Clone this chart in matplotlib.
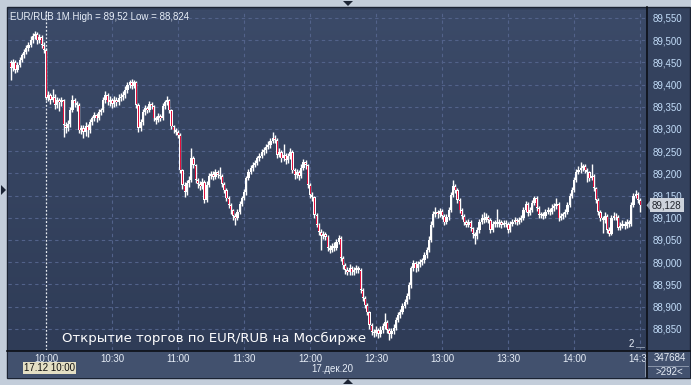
import matplotlib
matplotlib.use("Agg")
import matplotlib.pyplot as plt
import numpy as np
from matplotlib.patches import Rectangle, Polygon
from matplotlib.lines import Line2D
from matplotlib.transforms import Bbox, TransformedBbox
from matplotlib.colors import LinearSegmentedColormap

# ---------------- data (EUR/RUB, 1-minute candles, 17.12.20, 09:44 .. 14:30) ----------------
first_open = 89.450
close = [
    89.437, 89.451, 89.433, 89.444, 89.455, 89.466, 89.473, 89.482, 89.489, 89.500, 89.509, 89.514,
    89.500, 89.507, 89.489, 89.478, 89.370, 89.376, 89.365, 89.372, 89.354, 89.365, 89.360, 89.365,
    89.309, 89.302, 89.311, 89.342, 89.365, 89.358, 89.354, 89.297, 89.302, 89.293, 89.306, 89.297,
    89.315, 89.324, 89.331, 89.324, 89.338, 89.342, 89.365, 89.376, 89.360, 89.365, 89.356, 89.365,
    89.360, 89.370, 89.372, 89.376, 89.388, 89.399, 89.406, 89.397, 89.406, 89.354, 89.302, 89.315,
    89.338, 89.347, 89.342, 89.356, 89.351, 89.324, 89.320, 89.329, 89.324, 89.351, 89.360, 89.365,
    89.342, 89.306, 89.297, 89.293, 89.286, 89.207, 89.174, 89.158, 89.178, 89.185, 89.234, 89.219,
    89.185, 89.176, 89.171, 89.180, 89.140, 89.174, 89.194, 89.198, 89.192, 89.203, 89.196, 89.194,
    89.176, 89.162, 89.144, 89.129, 89.117, 89.104, 89.099, 89.113, 89.131, 89.144, 89.158, 89.189,
    89.203, 89.212, 89.219, 89.223, 89.234, 89.239, 89.248, 89.252, 89.259, 89.264, 89.273, 89.280,
    89.275, 89.241, 89.248, 89.234, 89.241, 89.230, 89.239, 89.248, 89.207, 89.196, 89.203, 89.194,
    89.212, 89.225, 89.219, 89.174, 89.151, 89.147, 89.106, 89.084, 89.068, 89.059, 89.063, 89.057,
    89.032, 89.027, 89.036, 89.032, 89.045, 89.054, 89.009, 88.993, 88.982, 88.977, 88.986, 88.977,
    88.982, 88.986, 88.982, 88.937, 88.919, 88.903, 88.887, 88.858, 88.843, 88.840, 88.847, 88.838,
    88.847, 88.856, 88.865, 88.847, 88.838, 88.845, 88.852, 88.870, 88.881, 88.887, 88.901, 88.910,
    88.924, 88.948, 88.986, 88.998, 88.986, 88.995, 89.000, 89.004, 89.016, 89.027, 89.050, 89.084,
    89.108, 89.113, 89.108, 89.115, 89.104, 89.090, 89.101, 89.117, 89.151, 89.171, 89.162, 89.140,
    89.117, 89.104, 89.090, 89.084, 89.090, 89.077, 89.063, 89.059, 89.072, 89.090, 89.099, 89.095,
    89.101, 89.095, 89.072, 89.086, 89.090, 89.086, 89.090, 89.084, 89.088, 89.086, 89.072, 89.086,
    89.090, 89.095, 89.090, 89.095, 89.099, 89.117, 89.131, 89.111, 89.117, 89.133, 89.144, 89.122,
    89.106, 89.108, 89.104, 89.113, 89.117, 89.113, 89.122, 89.126, 89.131, 89.099, 89.104, 89.108,
    89.113, 89.129, 89.149, 89.162, 89.185, 89.203, 89.207, 89.212, 89.216, 89.207, 89.203, 89.189,
    89.194, 89.167, 89.140, 89.113, 89.099, 89.095, 89.104, 89.072, 89.063, 89.099, 89.104, 89.101,
    89.077, 89.081, 89.086, 89.081, 89.090, 89.086, 89.129, 89.149, 89.153, 89.140, 89.128,
]
high = [
    89.455, 89.458, 89.456, 89.450, 89.462, 89.472, 89.480, 89.490, 89.497, 89.510, 89.516, 89.520,
    89.518, 89.515, 89.512, 89.496, 89.482, 89.385, 89.382, 89.390, 89.378, 89.372, 89.370, 89.372,
    89.368, 89.315, 89.320, 89.350, 89.376, 89.370, 89.364, 89.358, 89.310, 89.308, 89.315, 89.312,
    89.322, 89.330, 89.338, 89.336, 89.345, 89.348, 89.372, 89.385, 89.380, 89.374, 89.370, 89.375,
    89.372, 89.378, 89.380, 89.385, 89.396, 89.406, 89.410, 89.413, 89.410, 89.408, 89.358, 89.322,
    89.345, 89.354, 89.352, 89.362, 89.360, 89.354, 89.330, 89.335, 89.334, 89.358, 89.366, 89.374,
    89.368, 89.345, 89.310, 89.302, 89.298, 89.290, 89.210, 89.180, 89.185, 89.195, 89.257, 89.240,
    89.222, 89.190, 89.182, 89.190, 89.184, 89.182, 89.200, 89.206, 89.205, 89.210, 89.208, 89.215,
    89.198, 89.180, 89.166, 89.148, 89.134, 89.120, 89.110, 89.120, 89.138, 89.150, 89.165, 89.195,
    89.210, 89.218, 89.226, 89.230, 89.240, 89.246, 89.255, 89.260, 89.266, 89.272, 89.280, 89.293,
    89.286, 89.280, 89.256, 89.252, 89.265, 89.246, 89.246, 89.256, 89.252, 89.212, 89.210, 89.208,
    89.220, 89.232, 89.230, 89.222, 89.178, 89.158, 89.150, 89.110, 89.088, 89.074, 89.070, 89.068,
    89.060, 89.038, 89.042, 89.045, 89.052, 89.060, 89.058, 89.014, 88.998, 88.988, 88.995, 88.992,
    88.990, 88.994, 88.992, 88.986, 88.942, 88.924, 88.908, 88.890, 88.862, 88.850, 88.855, 88.852,
    88.855, 88.862, 88.886, 88.870, 88.852, 88.852, 88.860, 88.876, 88.888, 88.894, 88.908, 88.916,
    88.930, 88.955, 88.992, 89.005, 89.002, 89.002, 89.006, 89.010, 89.022, 89.034, 89.058, 89.092,
    89.115, 89.124, 89.118, 89.122, 89.120, 89.108, 89.108, 89.124, 89.158, 89.185, 89.176, 89.166,
    89.144, 89.122, 89.108, 89.095, 89.098, 89.094, 89.080, 89.068, 89.078, 89.097, 89.108, 89.112,
    89.110, 89.106, 89.100, 89.092, 89.096, 89.120, 89.098, 89.096, 89.095, 89.094, 89.090, 89.092,
    89.098, 89.102, 89.100, 89.102, 89.106, 89.124, 89.138, 89.135, 89.124, 89.140, 89.150, 89.148,
    89.126, 89.114, 89.112, 89.120, 89.124, 89.122, 89.130, 89.134, 89.145, 89.135, 89.110, 89.114,
    89.120, 89.136, 89.156, 89.170, 89.192, 89.210, 89.216, 89.226, 89.222, 89.220, 89.212, 89.206,
    89.220, 89.198, 89.170, 89.144, 89.118, 89.104, 89.112, 89.108, 89.078, 89.106, 89.112, 89.110,
    89.106, 89.090, 89.094, 89.092, 89.098, 89.096, 89.136, 89.156, 89.162, 89.158, 89.144,
]
low = [
    89.410, 89.430, 89.425, 89.428, 89.440, 89.450, 89.460, 89.468, 89.476, 89.484, 89.494, 89.502,
    89.492, 89.494, 89.482, 89.470, 89.365, 89.362, 89.356, 89.360, 89.345, 89.348, 89.340, 89.352,
    89.282, 89.290, 89.296, 89.305, 89.338, 89.350, 89.340, 89.290, 89.288, 89.280, 89.284, 89.282,
    89.292, 89.310, 89.318, 89.316, 89.320, 89.332, 89.338, 89.358, 89.354, 89.352, 89.348, 89.350,
    89.352, 89.355, 89.362, 89.366, 89.370, 89.382, 89.392, 89.390, 89.392, 89.348, 89.293, 89.296,
    89.310, 89.332, 89.335, 89.338, 89.344, 89.318, 89.312, 89.315, 89.318, 89.320, 89.346, 89.355,
    89.336, 89.300, 89.290, 89.286, 89.280, 89.200, 89.165, 89.147, 89.152, 89.170, 89.180, 89.212,
    89.178, 89.168, 89.162, 89.165, 89.133, 89.136, 89.170, 89.188, 89.186, 89.188, 89.190, 89.188,
    89.170, 89.155, 89.138, 89.122, 89.108, 89.096, 89.084, 89.094, 89.108, 89.126, 89.140, 89.152,
    89.184, 89.198, 89.206, 89.214, 89.218, 89.228, 89.234, 89.242, 89.246, 89.254, 89.258, 89.268,
    89.268, 89.234, 89.236, 89.226, 89.228, 89.222, 89.224, 89.232, 89.200, 89.188, 89.190, 89.186,
    89.190, 89.208, 89.210, 89.168, 89.144, 89.138, 89.100, 89.078, 89.060, 89.028, 89.052, 89.050,
    89.026, 89.020, 89.022, 89.026, 89.028, 89.040, 89.002, 88.985, 88.974, 88.970, 88.972, 88.970,
    88.972, 88.976, 88.976, 88.930, 88.912, 88.896, 88.880, 88.850, 88.835, 88.832, 88.834, 88.830,
    88.832, 88.840, 88.850, 88.840, 88.824, 88.830, 88.838, 88.846, 88.864, 88.874, 88.882, 88.896,
    88.905, 88.918, 88.942, 88.980, 88.978, 88.980, 88.988, 88.994, 88.998, 89.010, 89.022, 89.045,
    89.078, 89.102, 89.100, 89.102, 89.098, 89.084, 89.085, 89.096, 89.112, 89.146, 89.155, 89.134,
    89.110, 89.098, 89.084, 89.078, 89.078, 89.070, 89.055, 89.041, 89.052, 89.066, 89.085, 89.088,
    89.090, 89.088, 89.066, 89.068, 89.080, 89.080, 89.080, 89.076, 89.078, 89.080, 89.066, 89.068,
    89.082, 89.086, 89.084, 89.085, 89.090, 89.094, 89.112, 89.105, 89.106, 89.112, 89.128, 89.116,
    89.100, 89.100, 89.098, 89.100, 89.108, 89.106, 89.108, 89.116, 89.120, 89.092, 89.094, 89.098,
    89.102, 89.108, 89.124, 89.144, 89.158, 89.180, 89.198, 89.200, 89.205, 89.200, 89.180, 89.182,
    89.184, 89.160, 89.134, 89.106, 89.092, 89.066, 89.088, 89.066, 89.058, 89.060, 89.094, 89.094,
    89.072, 89.072, 89.076, 89.074, 89.076, 89.080, 89.082, 89.124, 89.144, 89.134, 89.112,
]
start_label = "09:44"
time_ticks = ["10:00", "10:30", "11:00", "11:30", "12:00", "12:30", "13:00", "13:30", "14:00", "14:30"]
price_levels = [88.85, 88.90, 88.95, 89.00, 89.05, 89.10, 89.15, 89.20, 89.25, 89.30,
                89.35, 89.40, 89.45, 89.50, 89.55]
last_price = 89.128
header = "EUR/RUB 1M High = 89,52 Low = 88,824"
caption = "Открытие торгов по EUR/RUB на Мосбирже"
cursor_label = "17.12 10:00"
date_label = "17.дек.20"
volume_label = "347684"
count_label = ">292<"

# ---------------- figure ----------------
W, H = 691, 385
fig = plt.figure(figsize=(W / 100, H / 100), dpi=100)
fig.patch.set_facecolor('#c3cdda')
FONT = 'Liberation Sans'


def fx(px):
    return px / W


def fy(py):
    return 1 - py / H


# dark panel & bottom strip (behind the axes)
fig.patches.append(Rectangle((fx(7), fy(378)), (690 - 7) / W, (378 - 7) / H, transform=fig.transFigure,
                             facecolor='#34425e', edgecolor='#1b2333', lw=1.0, zorder=-5))
fig.patches.append(Rectangle((fx(7.5), fy(377.5)), (689 - 7) / W, 27 / H, transform=fig.transFigure,
                             facecolor='#42516e', edgecolor='none', zorder=-4))

ax = fig.add_axes([fx(8), fy(350), (646 - 8) / W, 340 / H])
ax.set_zorder(1)
ax.set_facecolor('#34425e')
grad = np.linspace(0, 1, 256).reshape(-1, 1)
cm = LinearSegmentedColormap.from_list('bg', ['#3b4a68', '#2f3c57'])
ax.imshow(grad, extent=[0, 1, 0, 1], transform=ax.transAxes, cmap=cm, aspect='auto', zorder=0)

o = np.array([first_open] + close[:-1])
c = np.array(close)
h = np.array(high)
l = np.array(low)
x = np.arange(len(c))

# grid
minute0 = int(start_label[:2]) * 60 + int(start_label[3:])
tick_pos = [int(t[:2]) * 60 + int(t[3:]) - minute0 for t in time_ticks]
for tp in tick_pos[1:]:
    ax.axvline(tp, color='#52628a', lw=0.8, ls=(0, (3, 3)), zorder=1)
for lv in price_levels:
    ax.axhline(lv, color='#52628a', lw=0.8, ls=(0, (3, 3)), zorder=1)
ax.axvline(tick_pos[0], color='#e8ecf2', lw=0.9, ls=(0, (1.5, 1.5)), zorder=2)

# candles
ax.vlines(x, l, h, color='white', lw=1.0, zorder=3)
body_lo = np.minimum(o, c)
body_h = np.maximum(np.abs(c - o), 0.0018)
ax.bar(x, body_h, bottom=body_lo, width=1.05, color='white', edgecolor='none', zorder=4)
down = c < o
ax.bar(x[down], np.maximum(body_h[down] - 0.003, 0.0008), bottom=body_lo[down] + 0.0015, width=0.45,
       color='#e2103c', edgecolor='none', zorder=5)

ax.set_xlim(-1.3, 288.7)
ax.set_ylim(88.802, 89.568)
for s in ax.spines.values():
    s.set_visible(False)

ax.yaxis.tick_right()
ax.set_yticks(price_levels)
ax.set_yticklabels([f"{v:.3f}".replace('.', ',') for v in price_levels], fontsize=7, family=FONT,
                   color='#c2dcf8')
ax.tick_params(axis='y', length=0, pad=5)
ax.set_xticks(tick_pos)
ax.set_xticklabels(time_ticks, fontsize=7, family=FONT, color='#e6edf7')
ax.tick_params(axis='x', length=0, pad=3)
clipbox = TransformedBbox(Bbox([[0, 0], [fx(646), 1]]), fig.transFigure)
for lbl in ax.get_xticklabels():
    lbl.set_clip_box(clipbox)
    lbl.set_clip_on(True)

# separators
fig.add_artist(Line2D([fx(646.5), fx(646.5)], [fy(7), fy(378)], color='#0c0f16', lw=1.2, zorder=3))
fig.add_artist(Line2D([fx(7), fx(690)], [fy(350.5), fy(350.5)], color='#0c0f16', lw=1.2, zorder=3))
fig.add_artist(Line2D([fx(648), fx(688)], [fy(365.5), fy(365.5)], color='#8a96aa', lw=0.7, zorder=3))
fig.add_artist(Line2D([fx(644.5), fx(644.5)], [fy(360), fy(376)], color='#8a96aa', lw=0.7, zorder=3))

# texts
fig.text(fx(10), fy(17), header, fontsize=7, family=FONT, color='#e6edf7', va='center', ha='left', zorder=4)
fig.text(fx(62), fy(338), caption, fontsize=9.5, family='DejaVu Sans', color='white', va='center', ha='left',
         zorder=4)
fig.text(fx(24), fy(368), cursor_label, fontsize=7, family=FONT, color='#101010', va='center', ha='left',
         zorder=4, bbox=dict(boxstyle='square,pad=0.15', facecolor='#e4dfc4', edgecolor='none'))
fig.text(fx(311), fy(369), date_label, fontsize=7, family=FONT, color='#e6edf7', va='center', ha='left', zorder=4)
fig.text(fx(654), fy(358), volume_label, fontsize=7, family=FONT, color='#e6edf7', va='center', ha='left', zorder=4)
fig.text(fx(656), fy(372), count_label, fontsize=7, family=FONT, color='#e6edf7', va='center', ha='left', zorder=4)
fig.text(fx(629), fy(344), "2", fontsize=7, family=FONT, color='#e6edf7', va='center', ha='left', zorder=4)
fig.add_artist(Line2D([fx(636), fx(644)], [fy(347), fy(347)], color='#8a96aa', lw=0.7, zorder=4))

# last price marker
fig.canvas.draw()
ly = ax.transData.transform((0, last_price))[1]
lyf = fig.transFigure.inverted().transform((0, ly))[1]
fig.text(fx(652), lyf, f"{last_price:.3f}".replace('.', ','), fontsize=7, family=FONT, color='#20242c',
         va='center', ha='left', zorder=6,
         bbox=dict(boxstyle='square,pad=0.2', facecolor='#cdd3dc', edgecolor='none'))
fig.add_artist(Polygon([[fx(646.5), lyf], [fx(651), lyf + 6 / H], [fx(651), lyf - 6 / H]], closed=True,
                       transform=fig.transFigure, facecolor='#9aa4b4', edgecolor='none', zorder=6))

# frame pointers
for pts in ([[343, 1], [353, 1], [348, 6]], [[343, 384], [353, 384], [348, 379]], [[1, 185], [1, 195], [6, 190]]):
    fig.add_artist(Polygon([[fx(px), fy(py)] for px, py in pts], closed=True, transform=fig.transFigure,
                           facecolor='#1c2434', edgecolor='none', zorder=6))

fig.savefig('out.png', dpi=100, facecolor=fig.get_facecolor())
